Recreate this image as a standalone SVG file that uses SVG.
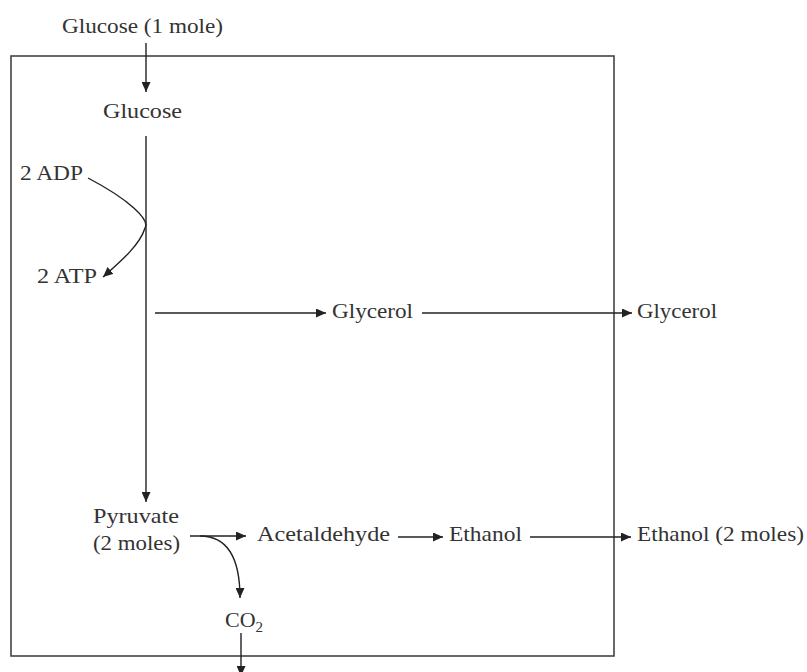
<svg xmlns="http://www.w3.org/2000/svg" width="807" height="672" viewBox="0 0 807 672">
<defs>
<marker id="ah" markerUnits="userSpaceOnUse" markerWidth="11" markerHeight="9" refX="10" refY="4.5" orient="auto">
<path d="M0,0 L10,4.5 L0,9 Z" fill="#222"/>
</marker>
<style>
text{font-family:"Liberation Serif","Times New Roman",serif;font-size:22px;fill:#333}
.c{fill:none;stroke:#222;stroke-width:1.4}
.a{marker-end:url(#ah)}
.box{fill:none;stroke:#444;stroke-width:1.6}
</style>
</defs>
<rect class="box" x="11" y="56" width="603" height="600"/>
<g id="connectors">
<line class="c a" x1="146" y1="43" x2="146" y2="92"/>
<line class="c a" x1="146" y1="136" x2="146" y2="502"/>
<path class="c a" d="M88,178 C130,200 150,220 145,228 C140,245 120,262 103,277"/>
<line class="c a" x1="155" y1="313" x2="326" y2="313"/>
<line class="c a" x1="422" y1="313" x2="632" y2="313"/>
<line class="c a" x1="190" y1="536" x2="246" y2="536"/>
<path class="c a" d="M200,536 C225,536 240,555 240,598"/>
<line class="c a" x1="398" y1="537" x2="443" y2="537"/>
<line class="c a" x1="530" y1="537" x2="631" y2="537"/>
<line class="c a" x1="241" y1="633" x2="241" y2="676"/>
</g>
<g id="glucose-in"><text x="62" y="33" textLength="161" lengthAdjust="spacingAndGlyphs">Glucose (1 mole)</text></g>
<g id="glucose"><text x="103" y="118" textLength="79" lengthAdjust="spacingAndGlyphs">Glucose</text></g>
<g id="adp"><text x="20" y="180" textLength="63" lengthAdjust="spacingAndGlyphs">2 ADP</text></g>
<g id="atp"><text x="37" y="283" textLength="60" lengthAdjust="spacingAndGlyphs">2 ATP</text></g>
<g id="glycerol-in"><text x="332" y="318" textLength="81" lengthAdjust="spacingAndGlyphs">Glycerol</text></g>
<g id="glycerol-out"><text x="637" y="318" textLength="80" lengthAdjust="spacingAndGlyphs">Glycerol</text></g>
<g id="pyruvate"><text x="93" y="523" textLength="86" lengthAdjust="spacingAndGlyphs">Pyruvate</text><text x="93" y="550" textLength="87" lengthAdjust="spacingAndGlyphs">(2 moles)</text></g>
<g id="acetaldehyde"><text x="257" y="541" textLength="133" lengthAdjust="spacingAndGlyphs">Acetaldehyde</text></g>
<g id="ethanol-in"><text x="449" y="541" textLength="73" lengthAdjust="spacingAndGlyphs">Ethanol</text></g>
<g id="ethanol-out"><text x="637" y="541" textLength="167" lengthAdjust="spacingAndGlyphs">Ethanol (2 moles)</text></g>
<g id="co2"><text x="225" y="627">CO<tspan font-size="15" dy="5">2</tspan></text></g>
</svg>
